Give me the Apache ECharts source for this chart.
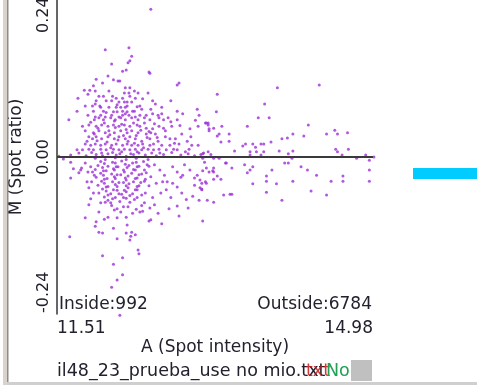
<!DOCTYPE html>
<html><head><meta charset="utf-8">
<script src="https://cdn.jsdelivr.net/npm/echarts@6/dist/echarts.min.js"></script>
<style>html,body{margin:0;padding:0;background:#fff}#c{width:477px;height:385px}</style>
</head><body><div id="c"></div>
<script>
const xRange = [11.51, 14.98];
const xTickLabels = ['11.51', '14.98'];
const yTicks = [0.24, 0.00, -0.24];
const xAxisTitle = 'A (Spot intensity)';
const yAxisTitle = 'M (Spot ratio)';
const countTexts = ['Inside:992', 'Outside:6784'];
const fileName = 'il48_23_prueba_use no mio.txt';
const overlapText = 'txt';
const statusText = 'No';

const spots = [
[12.54,0.226],[12.04,0.164],[12.30,0.167],[12.33,0.154],[12.31,0.147],[12.29,0.144],[12.11,0.142],[12.27,0.133],[12.23,0.131],[12.52,0.130],[12.53,0.128],[12.07,0.124],[11.94,0.119],[12.18,0.116],[12.20,0.116],[12.01,0.113],[12.13,0.118],[12.85,0.113],[12.83,0.110],[11.91,0.109],[12.26,0.106],[12.31,0.106],[11.81,0.102],[11.87,0.102],[11.93,0.101],[12.08,0.101],
[12.25,0.098],[12.30,0.098],[12.36,0.101],[12.40,0.098],[12.51,0.098],[11.85,0.096],[11.74,0.090],[11.97,0.093],[12.02,0.093],[12.12,0.093],[12.16,0.090],[12.23,0.090],[12.31,0.093],[12.37,0.090],[12.45,0.089],
[11.94,0.086],[12.05,0.086],[12.11,0.086],[12.19,0.084],[12.25,0.084],[12.28,0.084],[12.33,0.084],[12.56,0.086],[12.76,0.086],
[12.59,0.081],[12.42,0.078],[11.82,0.078],[11.90,0.078],[11.93,0.081],[11.99,0.076],[12.08,0.076],[12.16,0.076],[12.21,0.076],[12.26,0.076],[12.28,0.078],
[12.36,0.070],[12.44,0.073],[12.54,0.073],[12.66,0.076],[13.05,0.073],[11.73,0.070],[11.91,0.070],[12.02,0.070],[12.13,0.069],[12.17,0.069],[12.23,0.070],[12.28,0.069],[12.83,0.070],
[11.85,0.064],[11.93,0.061],[11.99,0.064],[12.04,0.061],[12.11,0.064],[12.19,0.061],[12.23,0.064],[12.30,0.064],[12.37,0.061],[12.42,0.064],[12.49,0.064],[12.56,0.066],[12.62,0.064],[12.66,0.066],[12.89,0.066],[13.07,0.064],
[11.64,0.057],[11.92,0.057],[11.97,0.060],[12.02,0.057],[12.10,0.060],[12.15,0.057],[12.21,0.060],[12.26,0.057],[12.33,0.060],[12.40,0.057],[12.47,0.060],[12.53,0.057],[12.63,0.060],[12.68,0.057],[12.76,0.054],[12.83,0.057],[13.14,0.052],[13.17,0.052],
[11.79,0.047],[11.86,0.049],[11.94,0.047],[12.00,0.049],[12.07,0.047],[12.13,0.049],[12.19,0.047],[12.25,0.049],[12.31,0.047],[12.39,0.049],[12.42,0.047],[12.49,0.044],[12.56,0.043],[12.63,0.047],[12.68,0.044],[12.77,0.047],[13.06,0.047],[13.18,0.043],
[11.82,0.040],[11.91,0.037],[11.97,0.040],[12.04,0.037],[12.08,0.040],[12.14,0.037],[12.21,0.040],[12.28,0.037],[12.33,0.040],[12.40,0.037],[12.49,0.035],[12.54,0.037],[12.59,0.035],[12.88,0.035],[12.97,0.043],
[11.86,0.031],[11.90,0.028],[11.94,0.031],[12.00,0.028],[12.07,0.031],[12.14,0.028],[12.19,0.031],[12.26,0.028],[12.31,0.031],[12.37,0.028],[12.44,0.024],[12.53,0.028],[12.62,0.024],[12.70,0.031],[12.75,0.028],[12.81,0.028],[12.94,0.024],
[11.82,0.020],[11.88,0.018],[11.93,0.020],[11.99,0.018],[12.04,0.020],[12.11,0.018],[12.16,0.020],[12.23,0.018],[12.28,0.020],[12.33,0.018],[12.40,0.018],[12.45,0.020],[12.53,0.018],[12.57,0.020],[12.66,0.018],[12.75,0.018],[12.85,0.020],[12.99,0.018],
[11.73,0.011],[11.79,0.011],[11.86,0.012],[11.91,0.011],[11.99,0.012],[12.05,0.011],[12.13,0.012],[12.19,0.011],[12.25,0.012],[12.31,0.011],[12.37,0.012],[12.44,0.011],[12.51,0.012],[12.57,0.011],[12.63,0.012],[12.71,0.011],[12.79,0.012],[12.83,0.011],[12.96,0.012],[13.06,0.018],
[11.88,0.053],[11.96,0.044],[12.03,0.052],[12.09,0.034],[12.15,0.045],[12.18,0.026],[12.22,0.050],[12.27,0.042],[12.29,0.024],[12.35,0.052],[12.38,0.033],[12.43,0.041],[12.46,0.014],[12.50,0.030],[12.10,0.014],[12.00,0.006],[11.95,0.025],[12.06,0.023],[12.12,0.007],[12.20,0.005],[12.24,0.033],[12.32,0.005],[12.36,0.021],[12.41,0.006],[12.14,0.055],[12.05,0.068],[11.92,0.035],[11.84,0.024],[11.98,0.078],[12.17,0.080],[12.26,0.066],[12.34,0.070],[12.39,0.077],[12.47,0.052],[12.52,0.039],[12.58,0.051],[12.61,0.030],[12.64,0.006],[12.70,0.040],[12.73,0.060],[12.80,0.021],[12.86,0.048],[12.92,0.008],[12.98,0.031],[13.03,0.056],[13.09,0.004],
[11.53,0.001],[11.58,-0.003],[11.66,0.003],[11.75,0.006],[11.83,0.002],[11.89,0.007],[11.94,0.004],[12.01,0.002],[12.07,0.005],[12.16,0.003],[12.22,0.008],[12.27,0.001],[12.35,0.004],[12.39,0.008],[12.48,0.003],[12.55,0.006],[12.60,0.002],[12.68,0.004],[12.77,0.007],[12.87,0.003],[12.95,0.005],[13.02,0.002],[13.12,0.006],[13.20,0.004],
[11.66,-0.008],[11.69,-0.018],[11.66,-0.032],[11.75,-0.024],[11.78,-0.017],[11.82,-0.009],[11.88,-0.015],[11.90,-0.023],[11.92,-0.028],[11.89,-0.038],[11.86,-0.047],[11.77,-0.020],[11.85,-0.023],[11.84,-0.038],
[11.65,-0.122],[11.82,-0.093],[11.86,-0.073],[11.88,-0.064],[11.91,-0.055],[11.94,-0.099],[11.93,-0.106],[11.97,-0.084],[11.97,-0.115],[12.01,-0.116],[12.03,-0.095],[12.07,-0.092],[11.99,-0.070],[12.04,-0.069],[12.10,-0.070],[12.14,-0.081],[12.17,-0.093],[12.13,-0.109],[12.17,-0.125],[12.21,-0.084],[12.24,-0.076],[12.27,-0.092],[12.28,-0.104],[12.31,-0.127],[12.33,-0.115],[12.37,-0.119],[12.34,-0.086],[12.42,-0.084],[12.45,-0.083],[12.47,-0.070],[12.53,-0.078],[12.54,-0.096],[12.58,-0.073],[12.83,-0.075],[13.07,-0.066],[13.11,-0.098],
[12.40,-0.142],[12.41,-0.148],[12.01,-0.151],[12.23,-0.154],[12.13,-0.164],[12.23,-0.180],[12.17,-0.188],[12.11,-0.199],[12.20,-0.242],[12.27,-0.116],[12.32,-0.121],
[12.58,-0.012],[12.64,-0.020],[12.69,-0.028],[12.72,-0.038],[12.78,-0.015],[12.83,-0.023],[12.87,-0.031],[12.91,-0.012],[12.97,-0.020],[13.05,-0.028],[13.08,-0.035],[13.13,-0.008],[13.18,-0.023],[13.02,-0.043],[13.08,-0.047],[12.67,-0.038],[12.78,-0.040],[12.83,-0.046],[12.89,-0.028],[13.02,-0.032],[13.14,-0.038],
[11.93,-0.002],[11.99,-0.007],[12.04,-0.004],[12.12,-0.008],[12.15,-0.001],[12.22,-0.006],[12.27,-0.004],[12.34,-0.009],[12.38,-0.002],[12.46,-0.007],[12.51,-0.004],
[11.96,-0.013],[12.03,-0.010],[12.07,-0.014],[12.15,-0.009],[12.18,-0.015],[12.26,-0.011],[12.30,-0.013],[12.38,-0.008],[12.41,-0.014],[12.50,-0.012],
[11.93,-0.019],[12.01,-0.016],[12.05,-0.021],[12.13,-0.018],[12.16,-0.015],[12.24,-0.020],[12.28,-0.016],[12.35,-0.019],[12.39,-0.015],[12.47,-0.020],[12.52,-0.014],
[11.99,-0.025],[12.02,-0.021],[12.11,-0.026],[12.14,-0.020],[12.21,-0.027],[12.25,-0.023],[12.33,-0.025],[12.37,-0.020],[12.44,-0.026],[12.49,-0.024],
[11.94,-0.031],[12.02,-0.028],[12.06,-0.033],[12.14,-0.030],[12.17,-0.027],[12.26,-0.032],[12.29,-0.029],[12.37,-0.033],[12.41,-0.027],[12.48,-0.034],[12.54,-0.030],
[12.00,-0.037],[12.03,-0.034],[12.12,-0.038],[12.15,-0.033],[12.24,-0.039],[12.27,-0.035],[12.35,-0.038],[12.39,-0.032],[12.47,-0.037],
[11.96,-0.043],[12.03,-0.040],[12.07,-0.045],[12.15,-0.042],[12.19,-0.039],[12.27,-0.044],[12.30,-0.041],[12.39,-0.045],[12.43,-0.039],[12.52,-0.044],
[12.01,-0.049],[12.05,-0.046],[12.13,-0.050],[12.17,-0.045],[12.25,-0.051],[12.29,-0.047],[12.37,-0.050],[12.41,-0.044],
[11.97,-0.055],[12.05,-0.052],[12.10,-0.056],[12.17,-0.051],[12.22,-0.057],[12.27,-0.053],[12.34,-0.056],[12.39,-0.050],[12.48,-0.055],
[12.03,-0.061],[12.07,-0.058],[12.15,-0.062],[12.19,-0.056],[12.27,-0.063],[12.31,-0.059],[12.39,-0.062],[12.44,-0.058],
[12.07,-0.066],[12.12,-0.064],[12.20,-0.068],[12.24,-0.062],[12.31,-0.069],[12.36,-0.065],
[12.11,-0.074],[12.17,-0.079],[12.29,-0.076],[12.38,-0.080],[12.44,-0.074],
[12.60,-0.040],[12.65,-0.055],[12.71,-0.050],[12.76,-0.062],[12.88,-0.055],[12.93,-0.065],[12.56,-0.062],[12.62,-0.086],[12.74,-0.079],[12.52,-0.098],[12.66,-0.102],[12.85,-0.090],[12.95,-0.078],[13.00,-0.060],[13.10,-0.050],[13.16,-0.066],
[13.93,0.106],[14.39,0.110],[13.27,0.096],[13.79,0.081],[13.26,0.069],[13.72,0.060],[13.84,0.060],[13.15,0.052],[13.17,0.049],[13.32,0.047],[13.60,0.047],[14.27,0.049],[13.23,0.044],[13.18,0.040],[14.56,0.041],[14.70,0.037],[13.29,0.035],[13.27,0.032],[13.40,0.035],[14.10,0.035],[14.22,0.032],[14.47,0.035],[14.59,0.035],[13.98,0.028],[14.04,0.029],[13.31,0.023],[13.40,0.024],[13.86,0.023],[13.58,0.020],[13.66,0.020],[13.75,0.020],[13.78,0.020],[13.55,0.017],[13.69,0.015],[14.57,0.012],[14.71,0.012],[13.46,0.009],[13.95,0.009],[14.10,0.009],[14.59,0.008],[13.11,0.005],[13.17,0.008],[13.63,0.008],[13.70,0.008],[13.78,0.008],[14.05,0.005],
[13.63,0.003],[13.75,0.003],[14.64,0.003],[14.90,0.003],[13.11,-0.002],[13.23,-0.002],[13.29,-0.002],[14.09,-0.002],[14.80,-0.002],[14.99,0.000],[14.94,-0.005],
[13.36,-0.009],[13.37,-0.009],[14.01,-0.009],[14.05,-0.009],[13.57,-0.012],[13.66,-0.015],[14.19,-0.015],[13.15,-0.017],[13.23,-0.017],[13.43,-0.017],[13.63,-0.020],[13.87,-0.020],[14.26,-0.020],[13.11,-0.021],[13.22,-0.021],[13.23,-0.023],[14.94,-0.020],[13.60,-0.024],[14.36,-0.028],[13.27,-0.029],[13.81,-0.029],[14.65,-0.029],[13.23,-0.034],[13.31,-0.034],[13.81,-0.037],[14.10,-0.037],[14.52,-0.037],[14.65,-0.037],[14.94,-0.037],[13.10,-0.040],[13.15,-0.040],[13.66,-0.041],[13.92,-0.041],[13.10,-0.049],[14.30,-0.052],[13.81,-0.054],[13.34,-0.058],[13.41,-0.057],[13.43,-0.057],[14.47,-0.058],[13.98,-0.066],[13.23,-0.069]
];

const FONT = 'DejaVu Sans';
const TEXT = '#22222e';
const chart = echarts.init(document.getElementById('c'), null, {renderer: 'canvas'});
chart.setOption({
  animation: false,
  grid: {left: 53, right: 104, top: 0, bottom: 71},
  xAxis: {
    type: 'value', min: xRange[0], max: xRange[1],
    axisLine: {show: false, onZero: false}, axisTick: {show: false}, axisLabel: {show: false}, splitLine: {show: false},
    name: xAxisTitle, nameLocation: 'middle', nameGap: 25,
    nameTextStyle: {fontFamily: FONT, fontSize: 17, color: TEXT}
  },
  yAxis: {
    type: 'value', min: yTicks[2], max: yTicks[0],
    axisLine: {show: true, onZero: false, lineStyle: {color: '#333', width: 1.5}},
    axisTick: {show: false}, axisLabel: {show: false}, splitLine: {show: false},
    name: yAxisTitle, nameLocation: 'middle', nameGap: 32, nameRotate: 90,
    nameTextStyle: {fontFamily: FONT, fontSize: 17, color: TEXT}
  },
  series: [{
    type: 'scatter', data: spots, symbol: 'circle', symbolSize: 3, clip: false, silent: true,
    itemStyle: {color: '#9b30d6'},
    markLine: {
      silent: true, symbol: 'none', label: {show: false}, animation: false,
      lineStyle: {color: '#3a3a3a', width: 2, type: 'solid'},
      data: [{yAxis: 0}]
    }
  }]
});

const px = v => chart.convertToPixel({xAxisIndex: 0}, v);
const py = v => chart.convertToPixel({yAxisIndex: 0}, v);
const gx0 = px(xRange[0]), gx1 = px(xRange[1]);
const gyTop = py(yTicks[0]), gyBot = py(yTicks[2]);

const g = [];
g.push({type: 'rect', shape: {x: 3, y: 0, width: 4, height: 385}, style: {fill: '#d8d4cc'}, z: 1});
g.push({type: 'rect', shape: {x: 7, y: 0, width: 1.5, height: 385}, style: {fill: '#8c8c8c'}, z: 1});
g.push({type: 'rect', shape: {x: 7, y: 382, width: 470, height: 3}, style: {fill: '#cfcfcf'}, z: 1});
g.push({type: 'rect', shape: {x: 413, y: 168, width: 64, height: 11}, style: {fill: '#00ccff'}, z: 1});

const yLabelFont = '16px "' + FONT + '"';
yTicks.forEach((v, i) => {
  const y = py(v);
  let yy = y, align = 'center';
  if (i === 0) { yy = gyTop + 33; align = 'left'; }
  if (i === yTicks.length - 1) { yy = gyBot - 1; align = 'left'; }
  g.push({type: 'text', x: 44, y: yy, rotation: Math.PI / 2, z: 5,
    style: {text: v.toFixed(2), font: yLabelFont, fill: TEXT, align: align, verticalAlign: 'middle'}});
});

const f17 = '17px "' + FONT + '"';
g.push({type: 'text', x: gx0, y: gyBot + 15, z: 5, style: {text: xTickLabels[0], font: f17, fill: TEXT, align: 'left', verticalAlign: 'middle'}});
g.push({type: 'text', x: gx1, y: gyBot + 15, z: 5, style: {text: xTickLabels[1], font: f17, fill: TEXT, align: 'right', verticalAlign: 'middle'}});
g.push({type: 'text', x: gx0 + 2, y: gyBot - 9, z: 5, style: {text: countTexts[0], font: f17, fill: TEXT, align: 'left', verticalAlign: 'middle'}});
g.push({type: 'text', x: gx1 - 1, y: gyBot - 9, z: 5, style: {text: countTexts[1], font: f17, fill: TEXT, align: 'right', verticalAlign: 'middle'}});
const fFile = '17.5px "' + FONT + '"';
g.push({type: 'text', x: gx0, y: 371, z: 5, style: {text: fileName, font: fFile, fill: TEXT, align: 'left', verticalAlign: 'middle'}});
g.push({type: 'text', x: 306, y: 371, z: 6, style: {text: overlapText, font: fFile, fill: '#c81818', opacity: 0.85, align: 'left', verticalAlign: 'middle'}});
g.push({type: 'text', x: 326, y: 371, z: 6, style: {text: statusText, font: fFile, fill: '#1fa055', align: 'left', verticalAlign: 'middle'}});
g.push({type: 'rect', shape: {x: 351, y: 360, width: 21, height: 21}, style: {fill: '#c0c0c0'}, z: 5});

chart.setOption({graphic: g});
</script>
</body></html>
